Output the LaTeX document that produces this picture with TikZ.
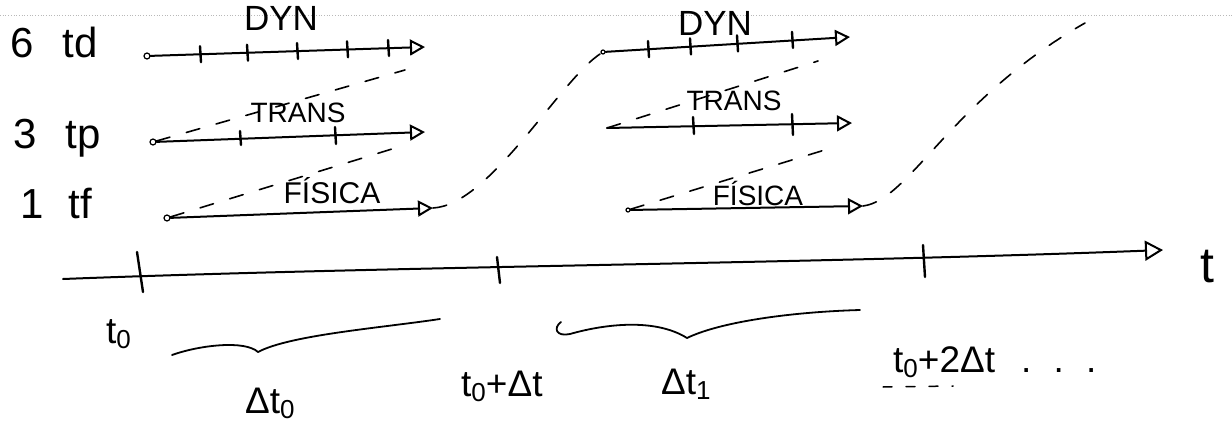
\documentclass[tikz,border=0pt]{standalone}
\usepackage{fontspec}
\setmainfont{Liberation Sans}
\usetikzlibrary{arrows.meta}
\tikzset{
  hand/.style={line width=2pt, line cap=round, line join=round},
  tl/.style={hand, -{Triangle[open, length=15pt, width=16pt]}},
  dsh/.style={line width=1.6pt, line cap=round, dash pattern=on 14pt off 17pt},
  tck/.style={line width=2.4pt, line cap=round},
  startpt/.style={circle, draw, line width=1.2pt, minimum size=6pt, inner sep=0pt},
  lbl/.style={inner sep=0pt, anchor=west, font=\fontsize{42}{48}\selectfont},
  tag/.style={inner sep=0pt, font=\fontsize{30}{36}\selectfont},
  sub/.style={inner sep=0pt, anchor=west, font=\fontsize{37}{42}\selectfont},
}
\newcommand{\lo}[1]{\raisebox{-0.25ex}{\fontsize{26}{30}\selectfont #1}}
\begin{document}
\begin{tikzpicture}[x=1pt, y=-1pt]
\useasboundingbox (0,0) rectangle (1232,444);
% scan artefact line at the top
\draw[gray!55, line width=0.7pt, dotted] (0,15) -- (1232,15);

% ---- row labels
\node[lbl] (l6) at (10,42) {6\hspace{0.7em}td};
\node[lbl] (l3) at (13,138) {3\hspace{0.7em}tp};
\node[lbl] (l1) at (20,203) {1\hspace{0.6em}tf};

% ---- first block
\node[startpt] (d1s) at (147,56) {};
\coordinate (d1e) at (425,47);
\draw[tl] (d1s) -- (d1e);
\foreach \x/\y in {200/54.2, 247/52.7, 297/51, 347/49.3, 388/48}
  \draw[tck] (\x,\y-8) -- (\x+1,\y+8);
\node[tag, font=\fontsize{35}{40}\selectfont] (dyn1) at (281,18) {DYN};

\node[startpt] (t1s) at (153,142) {};
\coordinate (t1e) at (425,132);
\draw[tl] (t1s) -- (t1e);
\draw[tck] (240,131) -- (241,145);
\draw[tck] (335,127) -- (336,144);
\node[tag, font=\fontsize{28}{34}\selectfont] (trans1) at (298,113) {TRANS};

\node[startpt] (f1s) at (167,218) {};
\coordinate (f1e) at (433,208);
\draw[tl] (f1s) -- (f1e);
\node[tag] (fis1) at (332,191) {FÍSICA};

% dashed links, first block
\coordinate (k1) at (405,70);
\coordinate (k2) at (405,145);
\draw[dsh] (t1s) -- (k1);
\draw[dsh] (f1s) -- (k2);

% ---- second block
\node[startpt, minimum size=4pt] (d2s) at (603,52) {};
\coordinate (d2e) at (850,37);
\draw[tl] (d2s) -- (d2e);
\foreach \x/\y in {648/49.1, 690/46.4, 737/43.4, 792/39.9}
  \draw[tck] (\x,\y-8) -- (\x+1,\y+8);
\node[tag, font=\fontsize{35}{40}\selectfont] (dyn2) at (715,23) {DYN};

\coordinate (t2s) at (607,128);
\coordinate (t2e) at (852,123);
\draw[tl] (t2s) -- (t2e);
\draw[tck] (693,117) -- (694,134);
\draw[tck] (792,114) -- (793,135);
\node[tag, font=\fontsize{28}{34}\selectfont] (trans2) at (734,101) {TRANS};

\node[startpt, minimum size=4pt] (f2s) at (628,210) {};
\coordinate (f2e) at (863,206);
\draw[tl] (f2s) -- (f2e);
\node[tag, font=\fontsize{28}{34}\selectfont] (fis2) at (758,193) {FÍSICA};

\coordinate (k3) at (818,61);
\coordinate (k4) at (828,149);
\draw[dsh] (t2s) -- (k3);
\draw[dsh] (f2s) -- (k4);

% ---- S-shaped dashed links between blocks
\draw[dsh] (f1e) .. controls (490,205) and (560,80) .. (d2s);
\coordinate (send) at (1085,23);
\draw[dsh] (f2e) .. controls (910,200) and (950,100) .. (send);

% ---- time axis
\coordinate (ax0) at (63,279);
\coordinate (ax1) at (1163,250);
\draw[hand, -{Triangle[open, length=18pt, width=20pt]}] (ax0) .. controls (400,266) and (800,264) .. (ax1);
\draw[tck] (137,252) -- (143,292);
\draw[tck] (497,257) -- (500,283);
\draw[tck] (923,245) -- (925,277);
\node[inner sep=0pt, font=\fontsize{50}{54}\selectfont] (tax) at (1207,267) {t};

% ---- labels under the axis
\node[sub] (lt0) at (106,334) {t\lo{0}};
\node[sub] (ldt0) at (245,403) {Δt\lo{0}};
\node[sub] (lt1) at (461,386) {t\lo{0}+Δt};
\node[sub] (ldt1) at (661,384) {Δt\lo{1}};
\node[sub] (lt2) at (893,362) {t\lo{0}+2Δt\hspace{0.7em}.\hspace{0.6em}.\hspace{0.6em}.};
\draw[line width=1.5pt, line cap=round, dash pattern=on 9pt off 14pt] (883,387) -- (953,386);

% ---- braces
\draw[hand, line width=1.8pt] (172,355) .. controls (200,345) and (245,340) .. (258,352)
   .. controls (290,335) and (380,328) .. (440,319);
\draw[hand, line width=1.8pt] (561,322) .. controls (553,328) and (556,337) .. (570,334)
   .. controls (605,324) and (655,318) .. (687,338)
   .. controls (720,322) and (790,312) .. (860,310);
\end{tikzpicture}
\end{document}
